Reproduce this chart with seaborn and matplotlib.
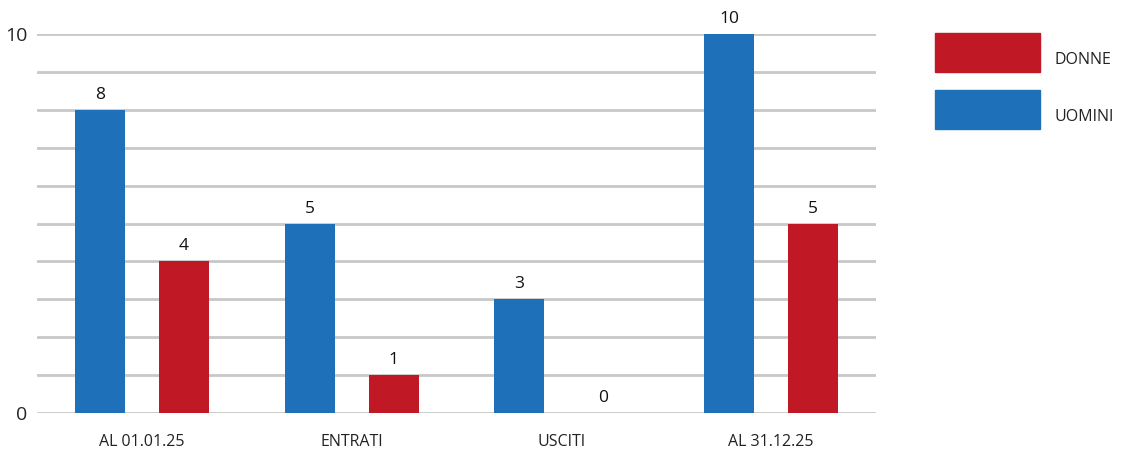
import numpy as np
import pandas as pd
import matplotlib
matplotlib.use("Agg")
import matplotlib.pyplot as plt
from matplotlib.patches import Rectangle
import seaborn as sns

categories = ["AL 01.01.25", "ENTRATI", "USCITI", "AL 31.12.25"]
uomini = [8, 5, 3, 10]
donne = [4, 1, 0, 5]
series_names = ["UOMINI", "DONNE"]
colors = {"UOMINI": "#1e71b8", "DONNE": "#c01824"}
y_ticks = list(range(0, 11))
y_ticklabels = ["0", "", "", "", "", "", "", "", "", "", "10"]

df = pd.DataFrame({
    "categoria": categories * 2,
    "valore": uomini + donne,
    "sesso": ["UOMINI"] * len(uomini) + ["DONNE"] * len(donne),
})

sns.set_style("white")
plt.rcParams['font.family'] = ['Open Sans', 'DejaVu Sans']

fig = plt.figure(figsize=(11.29, 4.57), dpi=100)
ax = fig.add_axes([37 / 1129, 1 - 413 / 457, 839 / 1129, 379 / 457])

sns.barplot(data=df, x="categoria", y="valore", hue="sesso", hue_order=series_names,
            palette=colors, order=categories, gap=0.405, ax=ax, legend=False,
            saturation=1, errorbar=None, linewidth=0)

for cont in ax.containers:
    ax.bar_label(cont, padding=5, fontsize=12.5, color="#111111")

ax.set_xlim(-0.5, len(categories) - 0.5)
ax.set_ylim(0, 10)
ax.set_yticks(y_ticks)
ax.set_yticklabels(y_ticklabels, fontsize=14)
ax.set_axisbelow(True)
ax.yaxis.grid(True, color="#c8c8c8", linewidth=2)
ax.xaxis.grid(False)
ax.tick_params(axis="y", length=0, pad=7)
ax.tick_params(axis="x", length=0, pad=15, labelsize=11.5)
ax.set_xlabel("")
ax.set_ylabel("")
for s in ax.spines.values():
    s.set_visible(False)
for lab in ax.get_xticklabels():
    lab.set_color("#222222")

# legend (DONNE on top, UOMINI below)
W, H = 1129, 457
for i, name in enumerate(["DONNE", "UOMINI"]):
    top = 33 + i * 57
    fig.patches.append(Rectangle((935 / W, 1 - (top + 39) / H), 105 / W, 39 / H,
                                 transform=fig.transFigure, color=colors[name]))
    fig.text(1054 / W, 1 - (top + 27) / H, name, fontsize=11.5, va="center", color="#222222")

fig.savefig("out.png", dpi=100)
